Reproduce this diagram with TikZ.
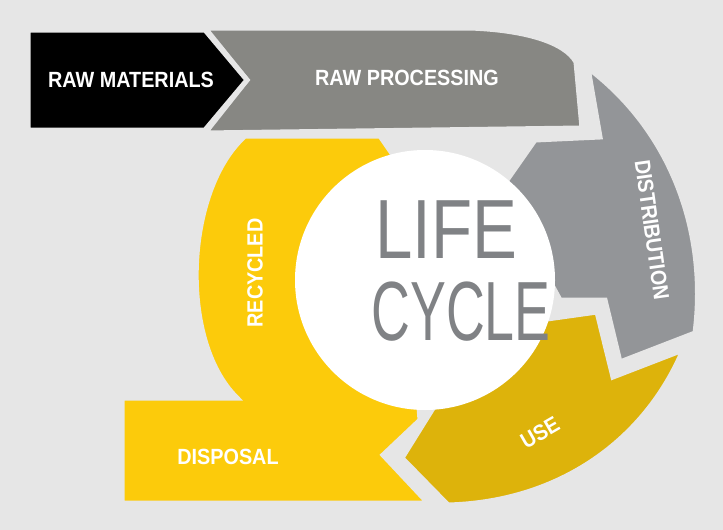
\documentclass[tikz,border=0pt]{standalone}
\usepackage{fontspec}
\setmainfont{Liberation Sans}
\definecolor{bg}{HTML}{E6E6E6}
\definecolor{procgray}{HTML}{878783}
\definecolor{distgray}{HTML}{939598}
\definecolor{yel}{HTML}{FCCB0B}
\definecolor{useyel}{HTML}{DDB30B}
\definecolor{txtgray}{HTML}{808285}
\tikzset{
  band/.style={draw=bg,line width=5pt,line join=miter},
  lbl/.style={text=white,font=\bfseries\fontsize{22}{22}\selectfont,inner sep=0pt},
  big/.style={text=txtgray,font=\fontsize{84}{84}\selectfont,inner sep=0pt}
}
\begin{document}
\begin{tikzpicture}[x=1pt,y=-1pt]
\fill[bg] (0,0) rectangle (723,530);
\useasboundingbox (0,0) rectangle (723,530);
% yellow recycled/disposal
\filldraw[band,fill=yel] (400,165) -- (380,136) -- (245,136) .. controls (185,190) and (178,340) .. (237,398)
  -- (122,398) -- (122,503) -- (428,503) -- (383,455) -- (420,420) -- cycle;
% use
\filldraw[band,fill=useyel] (683,350) -- (613,377) -- (597,312) -- (540,320) -- (435,405)
  -- (402,458) -- (448,505) .. controls (560,502) and (645,440) .. (683,350) -- cycle;
% distribution
\filldraw[band,fill=distgray] (588,68) .. controls (670,130) and (708,230) .. (695,333)
  -- (620,362) -- (605,300) -- (560,300) -- (500,190) -- (535,140) -- (600,137) -- cycle;
% raw processing
\filldraw[band,fill=procgray] (205,28) -- (470,28) .. controls (525,30) and (565,42) .. (576,62)
  -- (582,128) -- (205,133) -- (247,80) -- cycle;
% raw materials
\filldraw[band,fill=black] (28,30) -- (205,30) -- (247,80) -- (205,130) -- (28,130) -- cycle;
% circle
\fill[white] (425,280) circle[radius=130];
\node[big] (life) at (446,230) {\scalebox{0.8}[1]{LIFE}};
\node[big] (cycle) at (461,312) {\scalebox{0.64}[1]{CYCLE}};
\node[lbl] (rm) at (131,80) {\scalebox{0.9}[1]{RAW MATERIALS}};
\node[lbl] (rp) at (407,78) {\scalebox{0.9}[1]{RAW PROCESSING}};
\node[lbl,rotate=-82] (di) at (652,230) {\scalebox{0.9}[1]{DISTRIBUTION}};
\node[lbl,rotate=90] (re) at (255,273) {\scalebox{0.9}[1]{RECYCLED}};
\node[lbl] (dp) at (228,457) {\scalebox{0.9}[1]{DISPOSAL}};
\node[lbl,rotate=30] (us) at (540,433) {\scalebox{0.9}[1]{USE}};
\end{tikzpicture}
\end{document}
